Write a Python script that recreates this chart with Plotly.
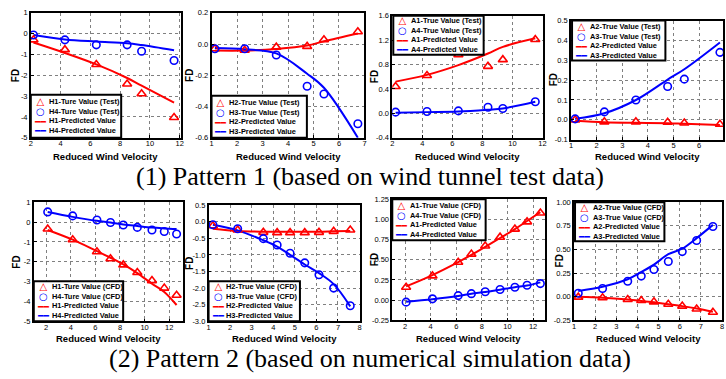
import plotly.graph_objects as go

W, H = 726, 379

# ---------------- data ----------------
# Pattern 1 (wind tunnel test)
p1_x = [2.18, 4.29, 6.40, 8.47, 9.44, 11.62]
p1_h1_true = [-0.30, -0.77, -1.48, -2.42, -2.89, -4.03]
p1_h4_true = [-0.07, -0.30, -0.54, -0.54, -0.85, -1.29]
p1_h1_pred = [-0.43, -0.93, -1.48, -2.13, -2.50, -3.31]
p1_h4_pred = [-0.07, -0.28, -0.38, -0.46, -0.55, -0.80]

p2_x = [1.13, 2.30, 3.54, 4.75, 5.41, 6.74]
p2_h2_true = [-0.030, -0.040, -0.020, -0.015, 0.027, 0.079]
p2_h3_true = [-0.030, -0.030, -0.070, -0.270, -0.320, -0.510]
p2_h2_pred = [-0.042, -0.042, -0.032, -0.010, 0.018, 0.068]
p2_h3_pred = [-0.026, -0.034, -0.060, -0.190, -0.280, -0.600]

p3_x = [2.22, 4.31, 6.40, 8.37, 9.36, 11.52]
p3_a1_true = [0.44, 0.62, 0.96, 0.77, 0.88, 1.21]
p3_a4_true = [0.02, 0.03, 0.04, 0.10, 0.08, 0.19]
p3_a1_pred = [0.52, 0.63, 0.79, 0.98, 1.09, 1.23]
p3_a4_pred = [0.01, 0.02, 0.03, 0.06, 0.08, 0.19]

p4_x = [1.16, 2.30, 3.53, 4.77, 5.42, 6.81]
p4_a2_true = [0.000, -0.010, -0.010, -0.012, -0.016, -0.022]
p4_a3_true = [0.005, 0.040, 0.100, 0.168, 0.205, 0.340]
p4_a2_pred = [-0.004, -0.012, -0.015, -0.017, -0.020, -0.026]
p4_a3_pred = [0.005, 0.033, 0.100, 0.203, 0.255, 0.390]

# Pattern 2 (CFD)
p5_x = [2.13, 4.16, 6.13, 7.23, 8.27, 9.41, 10.6, 11.6, 12.6]
p5_h1_true = [-0.35, -0.89, -1.50, -1.85, -2.16, -2.54, -2.95, -3.33, -3.69]
p5_h4_true = [0.51, 0.31, 0.10, -0.02, -0.15, -0.27, -0.40, -0.48, -0.60]
p5_h1_pred = [-0.40, -0.89, -1.47, -1.80, -2.13, -2.57, -3.11, -3.52, -4.18]
p5_h4_pred = [0.51, 0.26, 0.06, -0.02, -0.12, -0.20, -0.28, -0.32, -0.35]

p6_x = [1.20, 2.35, 3.54, 4.18, 4.78, 5.46, 6.12, 6.80, 7.57]
p6_h2_true = [-0.12, -0.25, -0.32, -0.33, -0.33, -0.33, -0.32, -0.29, -0.25]
p6_h3_true = [-0.09, -0.21, -0.51, -0.70, -0.95, -1.24, -1.60, -2.00, -2.53]
p6_h2_pred = [-0.21, -0.28, -0.30, -0.30, -0.30, -0.30, -0.30, -0.29, -0.28]
p6_h3_pred = [-0.09, -0.26, -0.56, -0.75, -1.00, -1.29, -1.55, -1.88, -2.55]

p7_x = [2.08, 4.14, 6.15, 7.18, 8.26, 9.42, 10.58, 11.53, 12.57]
p7_a1_true = [0.16, 0.30, 0.47, 0.57, 0.67, 0.78, 0.88, 0.97, 1.08]
p7_a4_true = [-0.025, 0.016, 0.056, 0.080, 0.104, 0.132, 0.160, 0.184, 0.205]
p7_a1_pred = [0.17, 0.31, 0.47, 0.56, 0.66, 0.77, 0.88, 0.98, 1.09]
p7_a4_pred = [-0.02, 0.01, 0.05, 0.08, 0.10, 0.13, 0.16, 0.18, 0.22]

p8_x = [1.20, 2.35, 3.54, 4.18, 4.78, 5.46, 6.12, 6.80, 7.57]
p8_a2_true = [-0.005, -0.012, -0.030, -0.040, -0.055, -0.080, -0.100, -0.130, -0.165]
p8_a3_true = [0.036, 0.087, 0.163, 0.218, 0.287, 0.373, 0.477, 0.594, 0.742]
p8_a2_pred = [0.000, -0.010, -0.030, -0.045, -0.060, -0.080, -0.100, -0.125, -0.160]
p8_a3_pred = [0.060, 0.105, 0.184, 0.260, 0.339, 0.450, 0.508, 0.620, 0.760]

# legend labels
p1_labels = ["H1-Ture Value (Test)", "H4-Ture Value (Test)", "H1-Predicted Value", "H4-Predicted Value"]
p2_labels = ["H2-True Value (Test)", "H3-True Value (Test)", "H2-Predicted Value", "H3-Predicted Value"]
p3_labels = ["A1-True Value (Test)", "A4-True Value (Test)", "A1-Predicted Value", "A4-Predicted Value"]
p4_labels = ["A2-True Value (Test)", "A3-True Value (Test)", "A2-Predicted Value", "A3-Predicted Value"]
p5_labels = ["H1-Ture Value (CFD)", "H4-Ture Value (CFD)", "H1-Predicted Value", "H4-Predicted Value"]
p6_labels = ["H2-True Value (CFD)", "H3-True Value (CFD)", "H2-Predicted Value", "H3-Predicted Value"]
p7_labels = ["A1-True Value (CFD)", "A4-True Value (CFD)", "A1-Predicted Value", "A4-Predicted Value"]
p8_labels = ["A2-True Value (CFD)", "A3-True Value (CFD)", "A2-Predicted Value", "A3-Predicted Value"]

# tick values
p1_xticks = [2, 4, 6, 8, 10, 12]
p1_yticks = [1, 0, -1, -2, -3, -4, -5]
p2_xticks = [1, 2, 3, 4, 5, 6, 7]
p2_yticks = [0.2, 0.0, -0.2, -0.4, -0.6]
p3_xticks = [2, 4, 6, 8, 10, 12]
p3_yticks = [1.6, 1.2, 0.8, 0.4, 0.0, -0.4]
p4_xticks = [1, 2, 3, 4, 5, 6, 7]
p4_yticks = [0.5, 0.4, 0.3, 0.2, 0.1, 0.0, -0.1]
p5_xticks = [2, 4, 6, 8, 10, 12]
p5_yticks = [1, 0, -1, -2, -3, -4, -5]
p6_xticks = [1, 2, 3, 4, 5, 6, 7, 8]
p6_yticks = [0.5, 0.0, -0.5, -1.0, -1.5, -2.0, -2.5, -3.0]
p7_xticks = [2, 4, 6, 8, 10, 12]
p7_yticks = [1.25, 1.00, 0.75, 0.50, 0.25, 0.00, -0.25]
p8_xticks = [1, 2, 3, 4, 5, 6, 7, 8]
p8_yticks = [1.00, 0.75, 0.50, 0.25, 0.00, -0.25]

x_title = "Reduced Wind Velocity"
y_title = "FD"
subtitle1 = "(1) Pattern 1 (based on wind tunnel test data)"
subtitle2 = "(2) Pattern 2 (based on numerical simulation data)"

# ---------------- layout geometry (pixels) ----------------
panels = [
    dict(x=p1_x, tri=p1_h1_true, cir=p1_h4_true, rp=p1_h1_pred, bp=p1_h4_pred, lab=p1_labels,
         xt=p1_xticks, yt=p1_yticks, yf="{:.0f}", xr=[2, 12.07], yr=[-5, 1],
         frame=(29, 180, 9, 137), box=(29, 120, 93, 137), fdx=13),
    dict(x=p2_x, tri=p2_h2_true, cir=p2_h3_true, rp=p2_h2_pred, bp=p2_h3_pred, lab=p2_labels,
         xt=p2_xticks, yt=p2_yticks, yf="{:.1f}", xr=[1, 7], yr=[-0.6, 0.2],
         frame=(211, 365, 9, 137), box=(211, 307, 94, 137), fdx=189),
    dict(x=p3_x, tri=p3_a1_true, cir=p3_a4_true, rp=p3_a1_pred, bp=p3_a4_pred, lab=p3_labels,
         xt=p3_xticks, yt=p3_yticks, yf="{:.1f}", xr=[2, 12.05], yr=[-0.4, 1.6],
         frame=(393, 545, 12, 137), box=(394, 485, 12, 52), fdx=375),
    dict(x=p4_x, tri=p4_a2_true, cir=p4_a3_true, rp=p4_a2_pred, bp=p4_a3_pred, lab=p4_labels,
         xt=p4_xticks, yt=p4_yticks, yf="{:.1f}", xr=[1, 6.93], yr=[-0.1, 0.5],
         frame=(573, 726, 17, 139), box=(574, 668, 17, 58), fdx=555),
    dict(x=p5_x, tri=p5_h1_true, cir=p5_h4_true, rp=p5_h1_pred, bp=p5_h4_pred, lab=p5_labels,
         xt=p5_xticks, yt=p5_yticks, yf="{:.0f}", xr=[1, 13.1], yr=[-5, 1],
         frame=(32, 182, 203, 325), box=(32, 122, 284, 325), fdx=15),
    dict(x=p6_x, tri=p6_h2_true, cir=p6_h3_true, rp=p6_h2_pred, bp=p6_h3_pred, lab=p6_labels,
         xt=p6_xticks, yt=p6_yticks, yf="{:.1f}", xr=[1, 8], yr=[-3, 0.5],
         frame=(208, 360, 206, 325), box=(208, 300, 284, 325), fdx=188),
    dict(x=p7_x, tri=p7_a1_true, cir=p7_a4_true, rp=p7_a1_pred, bp=p7_a4_pred, lab=p7_labels,
         xt=p7_xticks, yt=p7_yticks, yf="{:.2f}", xr=[1, 12.95], yr=[-0.25, 1.25],
         frame=(393, 547, 200, 324), box=(393, 487, 200, 242), fdx=375),
    dict(x=p8_x, tri=p8_a2_true, cir=p8_a3_true, rp=p8_a2_pred, bp=p8_a3_pred, lab=p8_labels,
         xt=p8_xticks, yt=p8_yticks, yf="{:.2f}", xr=[1, 8], yr=[-0.25, 1.0],
         frame=(576, 725, 203, 324), box=(577, 667, 203, 243), fdx=561),
]

SANS = "Arial, Liberation Sans, sans-serif"
SERIF = "Times New Roman, Liberation Serif, serif"
RED = "#ff0000"
BLUE = "#0000ff"

def fx(px):
    return px / W

def fy(py):
    return 1 - py / H

fig = go.Figure()
annotations = []
shapes = []
layout = dict(width=W, height=H, margin=dict(l=0, r=0, t=0, b=0),
              paper_bgcolor="white", plot_bgcolor="white", showlegend=False)

for i, p in enumerate(panels, start=1):
    xs = "" if i == 1 else str(i)
    xa, ya = f"x{xs}", f"y{xs}"
    fig.add_trace(go.Scatter(x=p["x"], y=p["rp"], mode="lines", line=dict(color=RED, width=2, shape="spline"),
                             xaxis=xa, yaxis=ya, name=p["lab"][2]))
    fig.add_trace(go.Scatter(x=p["x"], y=p["bp"], mode="lines", line=dict(color=BLUE, width=2, shape="spline"),
                             xaxis=xa, yaxis=ya, name=p["lab"][3]))
    fig.add_trace(go.Scatter(x=p["x"], y=p["tri"], mode="markers",
                             marker=dict(symbol="triangle-up-open", size=8, color=RED, line=dict(width=1.6, color=RED)),
                             xaxis=xa, yaxis=ya, name=p["lab"][0]))
    fig.add_trace(go.Scatter(x=p["x"], y=p["cir"], mode="markers",
                             marker=dict(symbol="circle-open", size=7.5, color=BLUE, line=dict(width=1.6, color=BLUE)),
                             xaxis=xa, yaxis=ya, name=p["lab"][1]))
    x0, x1, y0, y1 = p["frame"]
    common = dict(showline=True, linecolor="black", linewidth=1.5, mirror=True,
                  ticks="inside", ticklen=3, tickcolor="black", tickwidth=1,
                  showgrid=True, gridcolor="#808080", gridwidth=1, griddash="dot",
                  zeroline=False, tickfont=dict(family=SANS, size=7.5, color="black"))
    layout[f"xaxis{xs}"] = dict(domain=[fx(x0), fx(x1)], range=p["xr"], anchor=ya, ticklabelstandoff=-2,
                                tickvals=p["xt"], ticktext=[str(v) for v in p["xt"]], **common)
    layout[f"yaxis{xs}"] = dict(domain=[fy(y1), fy(y0)], range=p["yr"], anchor=xa,
                                tickvals=p["yt"], ticktext=[p["yf"].format(v) for v in p["yt"]], **common)
    # axis titles
    row_title_y = 156 if i <= 4 else 343
    annotations.append(dict(text=f"<b>{x_title}</b>", x=fx((x0 + x1) / 2), y=fy(row_title_y),
                            xref="paper", yref="paper", showarrow=False, xanchor="center", yanchor="middle",
                            font=dict(family=SANS, size=9.5, color="black")))
    annotations.append(dict(text=f"<b>{y_title}</b>", x=fx(p["fdx"]), y=fy((y0 + y1) / 2), textangle=-90,
                            xref="paper", yref="paper", showarrow=False, xanchor="center", yanchor="middle",
                            font=dict(family=SANS, size=10, color="black")))
    # legend box (border + symbol column + label column)
    bx0, bx1, by0, by1 = p["box"]
    shapes.append(dict(type="rect", xref="paper", yref="paper", x0=fx(bx0), x1=fx(bx1), y0=fy(by1), y1=fy(by0),
                       line=dict(color="black", width=2), fillcolor="white", layer="above"))
    cy = (by0 + by1) / 2
    sym_text = "<br>".join([
        f"<span style='color:{RED};font-size:10px'><b>△</b></span>",
        f"<span style='color:{BLUE};font-size:10px'><b>○</b></span>",
        f"<span style='color:{RED};font-size:9px'><b>━━</b></span>",
        f"<span style='color:{BLUE};font-size:9px'><b>━━</b></span>",
    ])
    annotations.append(dict(text=sym_text, x=fx(bx0 + 9), y=fy(cy), xref="paper", yref="paper",
                            showarrow=False, xanchor="center", yanchor="middle", align="center", borderpad=0,
                            font=dict(family="DejaVu Sans", size=7.5, color="black")))
    lab_text = "<br>".join(f"<b>{t}</b>" for t in p["lab"])
    annotations.append(dict(text=lab_text, x=fx(bx0 + 17), y=fy(cy), xref="paper", yref="paper",
                            showarrow=False, xanchor="left", yanchor="middle", align="left", borderpad=0,
                            font=dict(family=SANS, size=7.4, color="black")))

annotations.append(dict(text=subtitle1, x=fx(371), y=fy(177), xref="paper", yref="paper", showarrow=False,
                        xanchor="center", yanchor="middle", font=dict(family=SERIF, size=26, color="black")))
annotations.append(dict(text=subtitle2, x=fx(371), y=fy(363), xref="paper", yref="paper", showarrow=False,
                        xanchor="center", yanchor="middle", font=dict(family=SERIF, size=26, color="black")))

layout["annotations"] = annotations
layout["shapes"] = shapes
fig.update_layout(**layout)

fig.write_html("out.html", config={"displayModeBar": False},
               post_script="document.body.style.margin='0';document.body.style.overflow='hidden';")
